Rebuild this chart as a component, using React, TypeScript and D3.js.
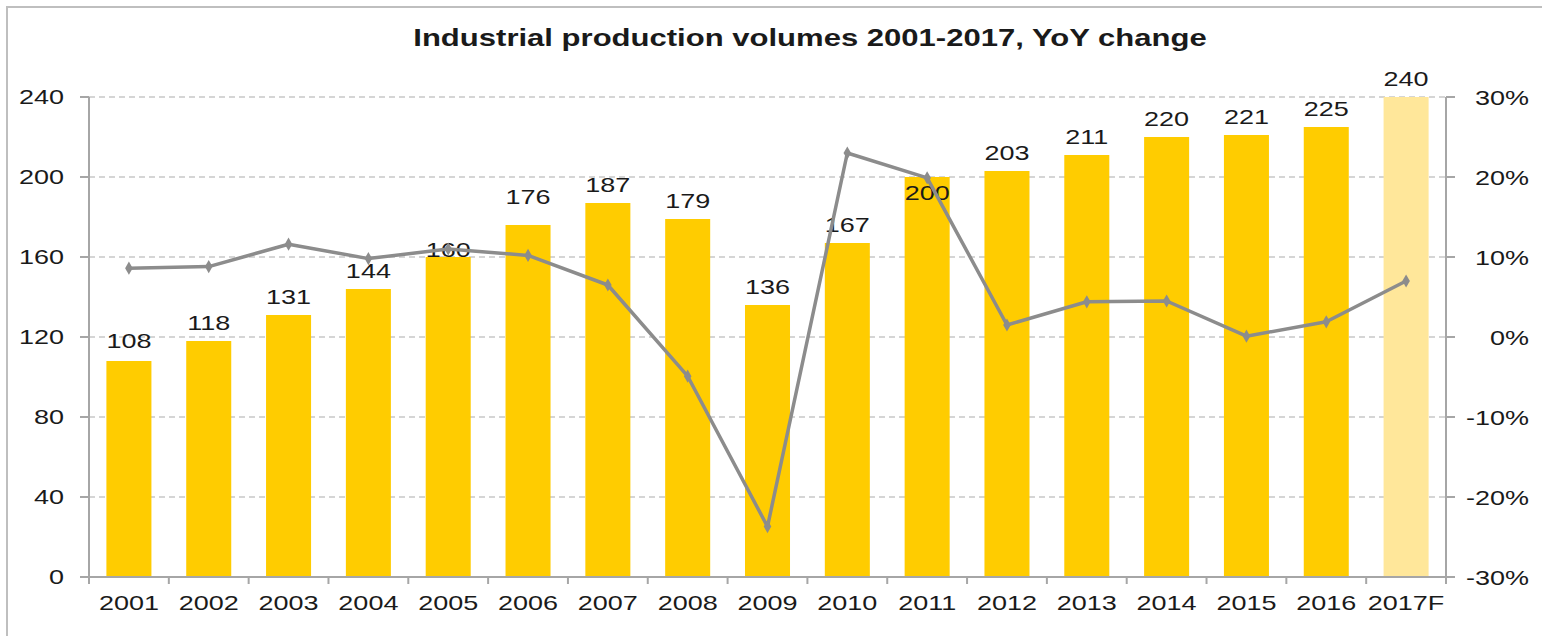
import React from "react";
import * as d3 from "d3";

const categories = ["2001","2002","2003","2004","2005","2006","2007","2008","2009","2010","2011","2012","2013","2014","2015","2016","2017F"];
const volumes = [108,118,131,144,160,176,187,179,136,167,200,203,211,220,221,225,240];
const yoyChange = [8.6,8.8,11.6,9.8,11.0,10.2,6.5,-4.9,-23.7,23.0,19.9,1.5,4.4,4.5,0.1,1.9,7.0];
const leftTicks = [0,40,80,120,160,200,240];
const rightTicks = [-30,-20,-10,0,10,20,30];
const forecastCategory = "2017F";
const title = "Industrial production volumes 2001-2017, YoY change";

const W = 1542, H = 636;
const left = 89, right = 1446, top = 97, bottom = 577;
const SX = 1.35;
const FONT = "'Liberation Sans', Arial, sans-serif";

// label gap adjustments (px, baseline distance above the bar top)
const labelGap: Record<string, number> = { "2005": 0, "2006": 21, "2011": -23, "2001": 13 };

function T({ x, y, anchor = "middle", size = 20, weight = 400, children }: any) {
  return (
    <g transform={`translate(${x},${y}) scale(${SX},1)`}>
      <text textAnchor={anchor} fontSize={size} fontWeight={weight} fontFamily={FONT} fill="#1a1a1a">{children}</text>
    </g>
  );
}

export default function App() {
  const x = d3.scaleBand<string>().domain(categories).range([left, right]).paddingInner(0.436).paddingOuter(0.218);
  const yL = d3.scaleLinear().domain([0, 240]).range([bottom, top]);
  const yR = d3.scaleLinear().domain([-30, 30]).range([bottom, top]);
  const step = x.step();
  const cx = (c: string) => (x(c) as number) + x.bandwidth() / 2;
  const line = d3.line<number>().x((_, i) => cx(categories[i])).y((v) => yR(v));
  const gridColor = "#c8c8c8";
  const axisColor = "#a6a6a6";
  const lineColor = "#8c8c8c";

  return (
    <svg width={W} height={H} style={{ position: "absolute", left: 0, top: 0, background: "#fff" }}>
      <rect x={7} y={7} width={W} height={H} fill="#fff" stroke="#bfbfbf" strokeWidth={2} />
      <T x={810} y={46} size={23} weight={700}>{title}</T>
      {leftTicks.map((t) => (
        <g key={"g" + t}>
          {t !== 0 && (
            <line x1={left} x2={right} y1={yL(t)} y2={yL(t)} stroke={gridColor} strokeWidth={1.3} strokeDasharray="6,4" />
          )}
          <line x1={left - 9} x2={left} y1={yL(t)} y2={yL(t)} stroke={axisColor} strokeWidth={2} />
          <T x={64} y={yL(t) + 7} anchor="end">{t}</T>
        </g>
      ))}
      {rightTicks.map((t) => (
        <g key={"r" + t}>
          <line x1={right} x2={right + 9} y1={yR(t)} y2={yR(t)} stroke={axisColor} strokeWidth={2} />
          <T x={1529} y={yR(t) + 8} anchor="end">{`${t}%`}</T>
        </g>
      ))}
      {categories.map((c, i) => {
        const v = volumes[i];
        const isF = c === forecastCategory;
        const gap = labelGap[c] ?? 11;
        return (
          <g key={c}>
            <rect x={x(c)} y={yL(v)} width={x.bandwidth()} height={yL(0) - yL(v)} fill={isF ? "#ffe79a" : "#ffcc00"} />
            <T x={cx(c)} y={yL(v) - gap}>{v}</T>
            <T x={cx(c)} y={bottom + 33}>{c}</T>
          </g>
        );
      })}
      <line x1={left} x2={left} y1={top} y2={bottom} stroke={axisColor} strokeWidth={2} />
      <line x1={right} x2={right} y1={top} y2={bottom} stroke={axisColor} strokeWidth={2} />
      <line x1={left} x2={right} y1={bottom} y2={bottom} stroke={axisColor} strokeWidth={2} />
      {d3.range(categories.length + 1).map((i) => (
        <line key={"xt" + i} x1={left + i * step} x2={left + i * step} y1={bottom} y2={bottom + 7} stroke={axisColor} strokeWidth={2} />
      ))}
      <path d={line(yoyChange) as string} fill="none" stroke={lineColor} strokeWidth={3.5} strokeLinejoin="round" />
      {yoyChange.map((v, i) => (
        <path key={"m" + i} d={d3.symbol(d3.symbolDiamond, 50)() as string} transform={`translate(${cx(categories[i])},${yR(v)})`} fill={lineColor} />
      ))}
    </svg>
  );
}
